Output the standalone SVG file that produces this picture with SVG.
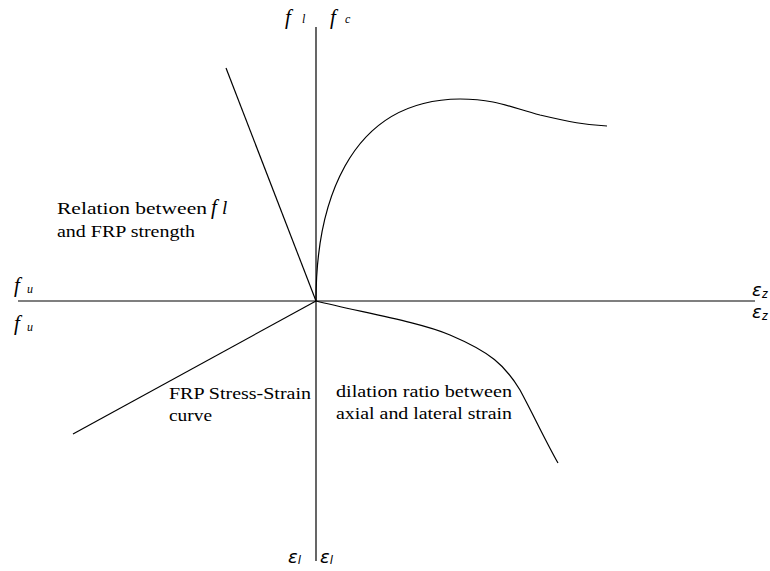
<svg xmlns="http://www.w3.org/2000/svg" width="770" height="571" viewBox="0 0 770 571">
<style>
.ln{fill:none;stroke:#000;stroke-width:1.2}
.ax{fill:none;stroke:#000;stroke-width:1.2}
.hx{fill:none;stroke:#555;stroke-width:1.4}
.t{font-family:"Liberation Serif","Times New Roman",serif;font-size:17.5px;fill:#000}
.sym{font-family:"Liberation Serif","Times New Roman",serif;font-style:italic;font-size:21px;fill:#000}
.sub{font-family:"Liberation Serif","Times New Roman",serif;font-style:italic;font-size:12px;fill:#000}
.eps{font-family:"DejaVu Sans","Liberation Sans",sans-serif;font-style:italic;font-size:18px;fill:#000}
.epsub{font-family:"Liberation Sans",sans-serif;font-style:italic;font-size:12px;fill:#000}
</style>
<g id="axes">
<line class="hx" x1="18" y1="301" x2="755" y2="301"/>
<line class="ax" x1="316" y1="27" x2="316" y2="561"/>
</g>
<g id="connectors">
<line class="ln" x1="226" y1="68" x2="316" y2="301"/>
<line class="ln" x1="316" y1="301" x2="73" y2="434"/>
<path class="ln" d="M316,301 C316,210 345,100 460,99 C495,99 510,107 540,115 C570,122 585,125 607,126"/>
<path class="ln" d="M316,301 C360,312 420,322 450,335 C490,352 505,365 520,390 C535,418 545,440 558,463"/>
</g>
<g id="labels">
<text class="sym" x="285" y="24">f</text><text class="sub" x="302" y="23">l</text>
<text class="sym" x="330" y="24">f</text><text class="sub" x="345" y="23">c</text>
<text class="sym" x="14" y="292">f</text><text class="sub" x="27" y="293">u</text>
<text class="sym" x="14" y="330">f</text><text class="sub" x="27" y="331">u</text>
<text class="eps" x="752" y="296">ε</text><text class="epsub" x="762" y="298">z</text>
<text class="eps" x="752" y="318">ε</text><text class="epsub" x="762" y="320">z</text>
<text class="eps" x="288" y="563">ε</text><text class="epsub" x="298" y="564">l</text>
<text class="eps" x="320" y="563">ε</text><text class="epsub" x="330" y="564">l</text>
</g>
<g id="note-relation">
<text class="t" x="57" y="214" textLength="150" lengthAdjust="spacingAndGlyphs">Relation between</text>
<text x="211" y="214" style="font-family:'Liberation Serif',serif;font-style:italic;font-size:21px">f</text>
<text x="222" y="214" style="font-family:'Liberation Serif',serif;font-style:italic;font-size:19px">l</text>
<text class="t" x="57" y="237" textLength="138" lengthAdjust="spacingAndGlyphs">and FRP strength</text>
</g>
<g id="note-frp">
<text class="t" x="169" y="399" textLength="142" lengthAdjust="spacingAndGlyphs">FRP Stress-Strain</text>
<text class="t" x="169" y="421" textLength="43" lengthAdjust="spacingAndGlyphs">curve</text>
</g>
<g id="note-dilation">
<text class="t" x="336" y="397" textLength="176" lengthAdjust="spacingAndGlyphs">dilation ratio between</text>
<text class="t" x="336" y="419" textLength="176" lengthAdjust="spacingAndGlyphs">axial and lateral strain</text>
</g>
</svg>
